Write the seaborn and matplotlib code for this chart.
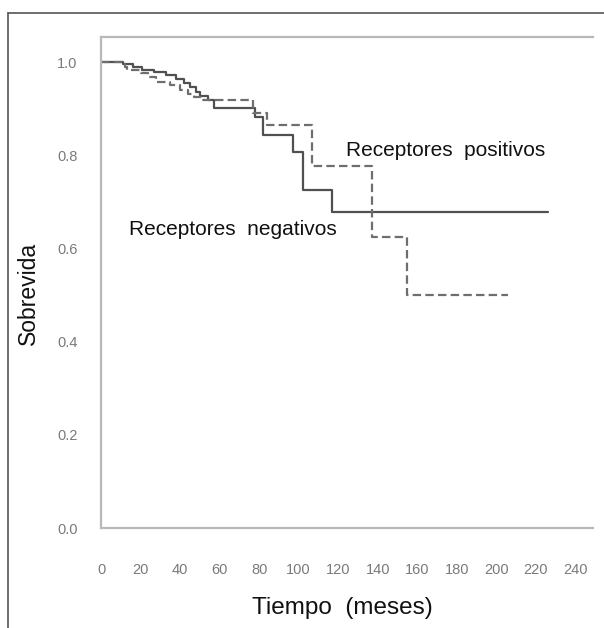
import matplotlib
matplotlib.use("Agg")
import matplotlib.pyplot as plt
from matplotlib.lines import Line2D
import numpy as np
import pandas as pd
import seaborn as sns

# Kaplan-Meier survival estimates (months, survival after each event)
tiempo_negativos = [0, 11, 16, 21, 27, 33, 38, 42, 45, 48, 50, 54, 57, 78, 82, 97, 102, 117, 226]
sobrevida_negativos = [1.0, 0.996, 0.99, 0.984, 0.979, 0.972, 0.964, 0.955, 0.946, 0.937, 0.928,
                       0.918, 0.901, 0.882, 0.843, 0.807, 0.725, 0.678, 0.678]

tiempo_positivos = [0, 12, 13, 20, 24, 28, 35, 40, 44, 47, 51, 77, 84, 107, 137, 155, 206]
sobrevida_positivos = [1.0, 0.99, 0.983, 0.977, 0.968, 0.957, 0.95, 0.94, 0.932, 0.925, 0.918,
                       0.89, 0.865, 0.777, 0.624, 0.5, 0.5]

grupos = ["Receptores negativos", "Receptores positivos"]
x_ticks = list(range(0, 241, 20))
y_ticks = [0.0, 0.2, 0.4, 0.6, 0.8, 1.0]

df = pd.concat([
    pd.DataFrame({"tiempo": tiempo_negativos, "sobrevida": sobrevida_negativos, "grupo": grupos[0]}),
    pd.DataFrame({"tiempo": tiempo_positivos, "sobrevida": sobrevida_positivos, "grupo": grupos[1]}),
], ignore_index=True)

sns.set_style("white")
plt.rcParams["font.family"] = ["Liberation Sans", "DejaVu Sans"]

fig = plt.figure(figsize=(6.04, 6.28), dpi=100)
ax = fig.add_axes([101 / 604, 1 - 528 / 628, 492 / 604, 491 / 628])

sns.lineplot(
    data=df, x="tiempo", y="sobrevida", hue="grupo", style="grupo",
    palette={grupos[0]: "#505050", grupos[1]: "#6e6e6e"},
    dashes={grupos[0]: "", grupos[1]: (3.8, 1.9)},
    drawstyle="steps-post", estimator=None, legend=False, linewidth=1.6, ax=ax,
)

ax.set_xlim(0, 249)
ax.set_ylim(0, 1.054)
ax.set_xticks(x_ticks)
ax.set_xticklabels([str(v) for v in x_ticks])
ax.set_yticks(y_ticks)
ax.set_yticklabels([f"{v:.1f}" for v in y_ticks])
ax.tick_params(axis="both", colors="#a8a8a8", labelcolor="#7a7a7a", labelsize=10.5,
               direction="out", length=6, width=1.2)
ax.tick_params(axis="y", pad=11)
ax.tick_params(axis="x", pad=19)
ax.set_xlabel("")
ax.set_ylabel("")

for side in ["left", "top", "bottom"]:
    ax.spines[side].set_visible(True)
    ax.spines[side].set_color("#b8b8b8")
    ax.spines[side].set_linewidth(1.6)
ax.spines["right"].set_visible(False)
ax.grid(False)

ax.text(124, 0.81, "Receptores  positivos", fontsize=15, color="#111111", va="center", ha="left")
ax.text(14, 0.64, "Receptores  negativos", fontsize=15, color="#111111", va="center", ha="left")

fig.text(342 / 604, 1 - 608 / 628, "Tiempo  (meses)", fontsize=17.5, ha="center", va="center", color="#111111")
fig.text(28 / 604, 1 - 293 / 628, "Sobrevida", fontsize=16.5, ha="center", va="center",
         rotation=90, color="#111111")

# outer frame (left and top edges)
fig.add_artist(Line2D([8 / 604, 8 / 604], [0, 1 - 13 / 628], transform=fig.transFigure,
                      color="#555555", linewidth=1.2))
fig.add_artist(Line2D([8 / 604, 1], [1 - 13 / 628, 1 - 13 / 628], transform=fig.transFigure,
                      color="#555555", linewidth=1.2))

fig.savefig("out.png", dpi=100, facecolor="white")
